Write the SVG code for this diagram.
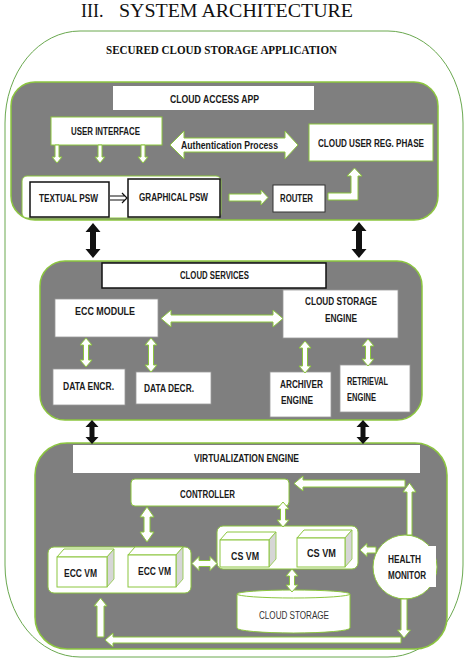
<svg xmlns="http://www.w3.org/2000/svg" width="467" height="665" viewBox="0 0 467 665">
<style>
.panel{fill:#7f7f7f;stroke:#8cc63f;stroke-width:1.5}
.wb{fill:#fff;stroke:#8cc63f;stroke-width:1}
.wp{fill:#fff;stroke:none}
.bb{fill:#fff;stroke:#111;stroke-width:1.5}
.gb{fill:#fff;stroke:#9a9a9a;stroke-width:0.8}
.wa{fill:#fff;stroke:#8cc63f;stroke-width:1}
.ba{fill:#111;stroke:none}
.side{fill:#d6d6d6;stroke:#8cc63f;stroke-width:0.8}
.t{font-family:"Liberation Sans",Arial,sans-serif;font-weight:bold;font-size:10px;fill:#1a1a1a;text-anchor:middle}
.tl{font-family:"Liberation Sans",Arial,sans-serif;font-weight:bold;font-size:10px;fill:#1a1a1a}
.tn{font-family:"Liberation Sans",Arial,sans-serif;font-size:10px;fill:#333;text-anchor:middle}
.ser{font-family:"Liberation Serif","Times New Roman",serif;fill:#111}
</style>

<g id="title">
<text class="ser" x="81" y="17" font-size="18">III.</text>
<text class="ser" x="119" y="17" font-size="18" textLength="234" lengthAdjust="spacingAndGlyphs">SYSTEM ARCHITECTURE</text>
</g>

<g id="outer">
<rect x="5" y="31" width="458" height="626" rx="75" ry="92" fill="#fff" stroke="#6aa84f" stroke-width="1"/>
<text class="ser" x="221.5" y="54" font-size="12" font-weight="bold" text-anchor="middle" textLength="231" lengthAdjust="spacingAndGlyphs">SECURED CLOUD STORAGE APPLICATION</text>
</g>

<!-- Panels -->
<g id="panel-access"><rect class="panel" x="11" y="82" width="427" height="138" rx="24"/></g>
<g id="panel-services"><rect class="panel" x="40" y="261" width="382" height="159" rx="25"/></g>
<g id="panel-virt"><rect class="panel" x="35" y="443" width="412" height="206" rx="32"/></g>

<!-- Top panel nodes -->
<g id="cloud-access-app"><rect class="wp" x="113" y="86" width="201" height="24"/><text class="t" x="214.5" y="103" textLength="89" lengthAdjust="spacingAndGlyphs">CLOUD ACCESS APP</text></g>
<g id="user-interface"><rect class="wb" x="51" y="117" width="111" height="28"/><text class="t" x="105.5" y="135" textLength="69" lengthAdjust="spacingAndGlyphs">USER INTERFACE</text></g>
<g id="cloud-user-reg"><rect class="wb" x="309" y="124" width="124" height="37"/><text class="t" x="371" y="147" textLength="106" lengthAdjust="spacingAndGlyphs">CLOUD USER REG. PHASE</text></g>
<g id="psw-group"><rect class="wb" x="22" y="176" width="199" height="42" rx="5"/></g>
<g id="textual-psw"><rect class="bb" x="30" y="182" width="79" height="35"/><text class="t" x="68.5" y="202" textLength="59" lengthAdjust="spacingAndGlyphs">TEXTUAL PSW</text></g>
<g id="graphical-psw"><rect class="bb" x="128" y="179" width="92" height="38"/><text class="t" x="173.5" y="201" textLength="69" lengthAdjust="spacingAndGlyphs">GRAPHICAL PSW</text></g>
<g id="router"><rect fill="#fff" stroke="#333" stroke-width="1" x="273" y="185" width="52" height="27"/><text class="t" x="296.5" y="202" textLength="33" lengthAdjust="spacingAndGlyphs">ROUTER</text></g>

<!-- Middle panel nodes -->
<g id="cloud-services"><rect class="bb" x="102" y="263" width="224" height="25"/><text class="t" x="214.5" y="279" textLength="69" lengthAdjust="spacingAndGlyphs">CLOUD SERVICES</text></g>
<g id="ecc-module"><rect class="gb" x="55" y="299" width="103" height="38"/><text class="t" x="105" y="315" textLength="60" lengthAdjust="spacingAndGlyphs">ECC MODULE</text></g>
<g id="cloud-storage-engine"><rect class="gb" x="283" y="290" width="115" height="48"/><text class="t" x="341" y="305" textLength="72" lengthAdjust="spacingAndGlyphs">CLOUD STORAGE</text><text class="t" x="341" y="322" textLength="32" lengthAdjust="spacingAndGlyphs">ENGINE</text></g>
<g id="data-encr"><rect class="gb" x="53" y="369" width="72" height="36"/><text class="t" x="88.5" y="390" textLength="51" lengthAdjust="spacingAndGlyphs">DATA ENCR.</text></g>
<g id="data-decr"><rect class="gb" x="136" y="372" width="75" height="32"/><text class="t" x="169" y="392" textLength="50" lengthAdjust="spacingAndGlyphs">DATA DECR.</text></g>
<g id="archiver-engine"><rect class="gb" x="270" y="372" width="61" height="45"/><text class="t" x="301.5" y="388" textLength="43" lengthAdjust="spacingAndGlyphs">ARCHIVER</text><text class="t" x="297" y="404" textLength="32" lengthAdjust="spacingAndGlyphs">ENGINE</text></g>
<g id="retrieval-engine"><rect class="gb" x="340" y="365" width="70" height="47"/><text class="tl" x="347" y="385" textLength="41" lengthAdjust="spacingAndGlyphs">RETRIEVAL</text><text class="tl" x="347" y="401" textLength="29" lengthAdjust="spacingAndGlyphs">ENGINE</text></g>

<!-- Bottom panel nodes -->
<g id="virtualization-engine"><rect class="wp" x="73" y="445" width="347" height="28"/><text class="t" x="246.5" y="462" textLength="105" lengthAdjust="spacingAndGlyphs">VIRTUALIZATION ENGINE</text></g>
<g id="controller"><rect class="wb" x="131" y="479" width="158" height="27" rx="4"/><text class="t" x="207.5" y="498" textLength="55" lengthAdjust="spacingAndGlyphs">CONTROLLER</text></g>

<g id="ecc-vm-group">
<rect class="wb" x="48" y="547" width="143" height="46" rx="6"/>
<g id="ecc-vm-1">
<polygon class="wb" points="57,557 64,549 114,549 107,557"/>
<polygon class="side" points="107,557 114,549 114,579 107,587"/>
<rect class="wb" x="57" y="557" width="50" height="30"/>
<text class="t" x="80.5" y="577" textLength="33" lengthAdjust="spacingAndGlyphs">ECC VM</text>
</g>
<g id="ecc-vm-2">
<polygon class="wb" points="128,555 135,547 183,547 176,555"/>
<polygon class="side" points="176,555 183,547 183,579 176,587"/>
<rect class="wb" x="128" y="555" width="48" height="32"/>
<text class="t" x="154.5" y="575" textLength="33" lengthAdjust="spacingAndGlyphs">ECC VM</text>
</g>
</g>

<g id="cs-vm-group">
<rect class="wb" x="217" y="526" width="141" height="43" rx="6"/>
<g id="cs-vm-1">
<polygon class="wb" points="220,540 227,532 276,532 269,540"/>
<polygon class="side" points="269,540 276,532 276,559 269,567"/>
<rect class="wb" x="220" y="540" width="49" height="27"/>
<text class="t" x="245" y="560" textLength="28" lengthAdjust="spacingAndGlyphs">CS VM</text>
</g>
<g id="cs-vm-2">
<polygon class="wb" points="297,538 304,530 352,530 345,538"/>
<polygon class="side" points="345,538 352,530 352,559 345,567"/>
<rect class="wb" x="297" y="538" width="48" height="29"/>
<text class="t" x="321.5" y="557" textLength="29" lengthAdjust="spacingAndGlyphs">CS VM</text>
</g>
</g>

<g id="cloud-storage">
<path class="wb" d="M237,594 L237,628 A56.5,5 0 0 0 350,628 L350,594"/>
<ellipse class="wb" cx="293.5" cy="594" rx="56.5" ry="4"/>
<text class="tn" x="294" y="619" textLength="70" lengthAdjust="spacingAndGlyphs">CLOUD STORAGE</text>
</g>

<g id="health-monitor">
<circle class="wb" cx="405" cy="567" r="32"/>
<rect class="wp" x="420" y="546" width="16" height="41"/>
<text class="tl" x="388" y="563" textLength="33" lengthAdjust="spacingAndGlyphs">HEALTH</text>
<text class="tl" x="388" y="579" textLength="38" lengthAdjust="spacingAndGlyphs">MONITOR</text>
</g>

<!-- Connectors -->
<g id="connectors">
<path class="wa" d="M55,145 L59,145 L59,157 L62,157 L57,163 L52,157 L55,157 Z"/>
<path class="wa" d="M98,145 L102,145 L102,157 L105,157 L100,163 L95,157 L98,157 Z"/>
<path class="wa" d="M141,145 L145,145 L145,157 L148,157 L143,163 L138,157 L141,157 Z"/>
<path class="wa" d="M170,145 L184,131 L184,138 L285,138 L285,131 L298,145 L285,159 L285,152 L184,152 L184,159 Z"/>
<text class="t" x="229.5" y="148.5" font-size="9.5" textLength="97" lengthAdjust="spacingAndGlyphs">Authentication Process</text>
<path d="M110,196 H125 M110,200 H125 M122,193 L127,198 L122,203" fill="none" stroke="#111" stroke-width="1.2"/>
<path class="wa" d="M229,194 L261,194 L261,190 L268,197.5 L261,205 L261,201 L229,201 Z"/>
<path class="wa" d="M328,193 L351,193 L351,176 L347,176 L354.5,168 L362,176 L358,176 L358,200 L328,200 Z"/>

<path class="ba" d="M93,223 L100.5,232 L96,232 L96,249 L100.5,249 L93,258 L85.5,249 L90,249 L90,232 L85.5,232 Z"/>
<path class="ba" d="M359,222 L366.5,231 L362,231 L362,249 L366.5,249 L359,258 L351.5,249 L356,249 L356,231 L351.5,231 Z"/>
<path class="ba" d="M92,420 L98.5,427 L94.5,427 L94.5,437 L98.5,437 L92,444 L85.5,437 L89.5,437 L89.5,427 L85.5,427 Z"/>
<path class="ba" d="M363,420 L369.5,427 L365.5,427 L365.5,437 L369.5,437 L363,444 L356.5,437 L360.5,437 L360.5,427 L356.5,427 Z"/>

<path class="wa" d="M161,318.5 L171,310 L171,315 L273,315 L273,310 L283,318.5 L273,327 L273,322 L171,322 L171,327 Z"/>
<path class="wa" d="M86,338 L92,345 L88.5,345 L88.5,360 L92,360 L86,367 L80,360 L83.5,360 L83.5,345 L80,345 Z"/>
<path class="wa" d="M151,338 L157,345 L153.5,345 L153.5,365 L157,365 L151,372 L145,365 L148.5,365 L148.5,345 L145,345 Z"/>
<path class="wa" d="M305,341 L311,348 L307.5,348 L307.5,366 L311,366 L305,373 L299,366 L302.5,366 L302.5,348 L299,348 Z"/>
<path class="wa" d="M368,339 L374,346 L370.5,346 L370.5,359 L374,359 L368,366 L362,359 L365.5,359 L365.5,346 L362,346 Z"/>

<path class="wa" d="M147,507 L154,517 L150,517 L150,532 L154,532 L147,542 L140,532 L144,532 L144,517 L140,517 Z"/>
<path class="wa" d="M283,502 L289,509 L285.5,509 L285.5,520 L289,520 L283,527 L277,520 L280.5,520 L280.5,509 L277,509 Z"/>
<path class="wa" d="M292,569 L298,576 L294.5,576 L294.5,585 L298,585 L292,592 L286,585 L289.5,585 L289.5,576 L286,576 Z"/>
<path class="wa" d="M192,563.5 L199,556.5 L199,560.5 L210,560.5 L210,556.5 L217,563.5 L210,570.5 L210,566.5 L199,566.5 L199,570.5 Z"/>
<path class="wa" d="M360,550 L367,543.5 L367,547 L376,547 L376,553 L367,553 L367,556.5 Z"/>
<path class="wa" d="M294,483.5 L303,476 L303,480 L405,480 L405,487 L303,487 L303,491 Z"/>
<path class="wa" d="M409.5,483 L416,492 L412,492 L412,535 L407,535 L407,492 L403,492 Z"/>
<path class="wa" d="M105,640 L113,633 L113,637 L401,637 L401,643 L113,643 L113,647 Z"/>
<path class="wa" d="M401,599 L407,599 L407,630 L410.5,630 L404,638 L397.5,630 L401,630 Z"/>
<path class="wa" d="M100.5,598 L107,606 L104,606 L104,637 L97,637 L97,606 L94,606 Z"/>
</g>
</svg>
